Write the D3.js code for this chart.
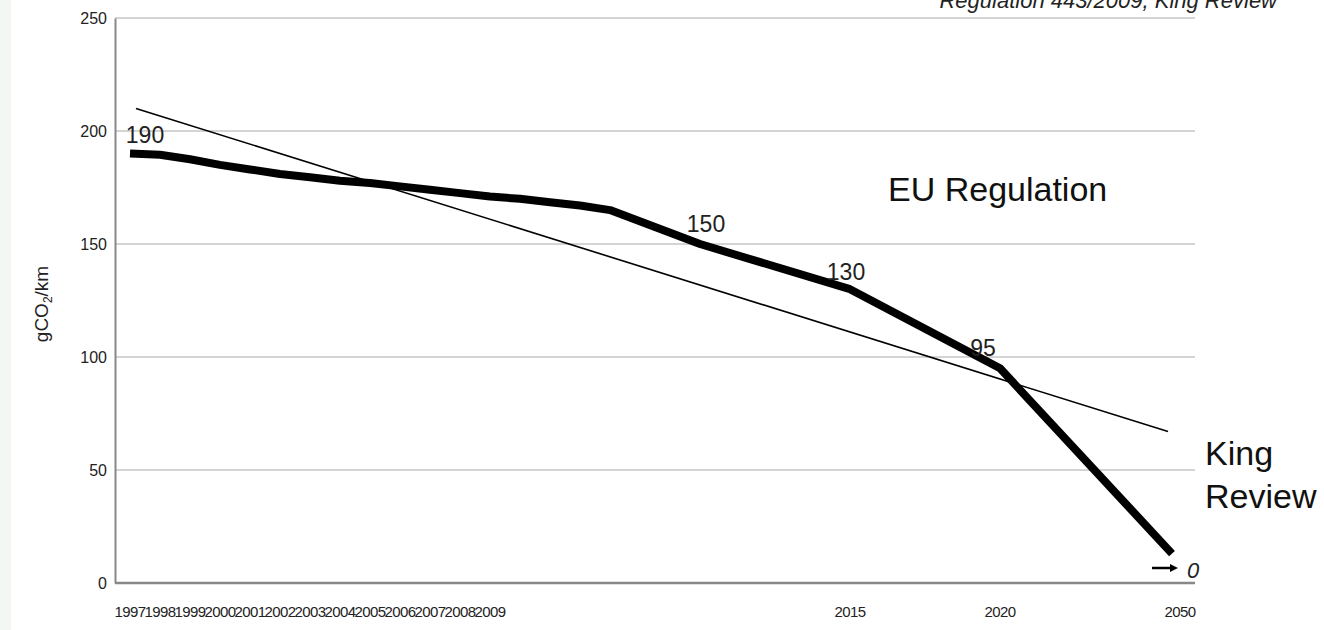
<!DOCTYPE html>
<html>
<head>
<meta charset="utf-8">
<script src="https://cdn.jsdelivr.net/npm/d3@7"></script>
<style>
  html, body { margin: 0; padding: 0; background: #ffffff; }
  svg { display: block; font-family: "Liberation Sans", Arial, sans-serif; }
</style>
</head>
<body>
<svg id="chart" width="1324" height="630"></svg>
<script>
// x-axis category slots (blank slots carry no label)
const tickLabels = ["1997","1998","1999","2000","2001","2002","2003","2004","2005","2006","2007","2008","2009",
  "","","","","","","","","","","",
  "2015","","","","",
  "2020","","","","","",
  "2050"];
const yTicks = [0, 50, 100, 150, 200, 250];

// EU Regulation (thick line) — null where the slot has no vertex
const euRegulation = [190, 189.5, 187.5, 185, 183, 181, 179.5, 178, 177, 175.5, 174, 172.5, 171,
  170, 168.5, 167, 165, null, null, 150, null, null, null, null,
  130, null, null, null, null,
  95, null, null, null, null, null,
  13];

// King Review (thin straight line)
const kingReview = [210, null, null, null, null, null, null, null, null, null, null, null, null,
  null, null, null, null, null, null, null, null, null, null, null,
  null, null, null, null, null,
  null, null, null, null, null, null,
  67];

// value labels on the EU Regulation line
const valueLabels = ["190", "150", "130", "95"];
const valueLabelSlots = [0, 19, 24, 29];

const svg = d3.select("#chart");
const W = 1324, H = 630;
const m = { left: 115, right: 1195, top: 18, bottom: 583 };

// left pale strip
svg.append("rect").attr("x", 0).attr("y", 0).attr("width", 11).attr("height", H).attr("fill", "#f3f7f3");

const x = d3.scaleBand().domain(d3.range(tickLabels.length)).range([m.left, m.right]);
const xc = i => x(i) + x.bandwidth() / 2;
const y = d3.scaleLinear().domain([0, 250]).range([m.bottom, m.top]);

// gridlines
svg.append("g").selectAll("line").data(yTicks.filter(d => d > 0)).join("line")
  .attr("x1", m.left).attr("x2", m.right)
  .attr("y1", d => y(d)).attr("y2", d => y(d))
  .attr("stroke", "#d4d4d4").attr("stroke-width", 2);

// y axis
const yAxis = svg.append("g").attr("transform", `translate(${m.left},0)`)
  .call(d3.axisLeft(y).tickValues(yTicks).tickSize(0).tickPadding(8));
yAxis.select(".domain").attr("stroke", "#888").attr("stroke-width", 2);
yAxis.selectAll("text").attr("font-size", 16).attr("fill", "#222")
  .attr("font-family", "Liberation Sans, Arial, sans-serif");

// x axis
const xAxis = svg.append("g").attr("transform", `translate(0,${m.bottom})`)
  .call(d3.axisBottom(x).tickFormat(i => tickLabels[i]).tickSize(0).tickPadding(23));
xAxis.select(".domain").attr("stroke", "#888").attr("stroke-width", 2.5).attr("d", `M${m.left},0H${m.right}`);
xAxis.selectAll("text").attr("font-size", 15).attr("fill", "#222")
  .attr("font-family", "Liberation Sans, Arial, sans-serif").attr("letter-spacing", "-0.6px");

// y-axis title
svg.append("text")
  .attr("transform", "translate(48,304) rotate(-90)")
  .attr("text-anchor", "middle").attr("font-size", 19).attr("fill", "#222")
  .html('gCO<tspan font-size="12" dy="4">2</tspan><tspan dy="-4">/km</tspan>');

// lines
const pts = arr => arr.map((v, i) => ({ i, v })).filter(d => d.v !== null);

svg.append("path").datum(pts(kingReview))
  .attr("fill", "none").attr("stroke", "#000").attr("stroke-width", 1.6)
  .attr("d", d3.line().x(d => xc(d.i) + (d.i === 0 ? 6 : -12)).y(d => y(d.v)));

svg.append("path").datum(pts(euRegulation))
  .attr("fill", "none").attr("stroke", "#000").attr("stroke-width", 8)
  .attr("stroke-linejoin", "round")
  .attr("d", d3.line().x(d => xc(d.i) + (d.i === tickLabels.length - 1 ? -8 : 0)).y(d => y(d.v)));

// value labels
const labelOffsets = [[15, -11], [6, -12], [-4, -9], [-17, -12]];
svg.append("g").selectAll("text").data(valueLabels).join("text")
  .attr("x", (d, k) => xc(valueLabelSlots[k]) + labelOffsets[k][0])
  .attr("y", (d, k) => y(euRegulation[valueLabelSlots[k]]) + labelOffsets[k][1])
  .attr("text-anchor", "middle").attr("font-size", 23).attr("fill", "#222")
  .text(d => d);

// series names
svg.append("text").attr("x", 888).attr("y", 201).attr("font-size", 34).attr("fill", "#111").text("EU Regulation");
svg.append("text").attr("x", 1205).attr("y", 465).attr("font-size", 34).attr("fill", "#111").text("King");
svg.append("text").attr("x", 1205).attr("y", 508).attr("font-size", 34).attr("fill", "#111").text("Review");

// arrow to 0
svg.append("line").attr("x1", 1152).attr("x2", 1172).attr("y1", 568).attr("y2", 568)
  .attr("stroke", "#000").attr("stroke-width", 2.5);
svg.append("path").attr("d", "M1178,568 L1170,564 L1170,572 Z").attr("fill", "#000");
svg.append("text").attr("x", 1187).attr("y", 578).attr("font-size", 22).attr("font-style", "italic")
  .attr("fill", "#222").text("0");

// source note (cut at top, as in the original)
svg.append("text").attr("x", 1277).attr("y", 8).attr("text-anchor", "end")
  .attr("font-size", 22).attr("font-style", "italic").attr("fill", "#222")
  .text("Regulation 443/2009, King Review");
</script>
</body>
</html>
